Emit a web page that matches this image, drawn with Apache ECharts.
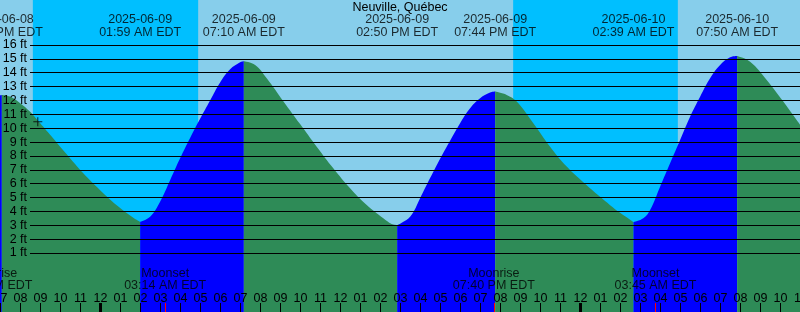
<!DOCTYPE html>
<html><head><meta charset="utf-8">
<script src="https://cdn.jsdelivr.net/npm/echarts@6/dist/echarts.min.js"></script>
<style>html,body{margin:0;padding:0;background:#87CEEB}#c{width:800px;height:312px}</style>
</head><body><div id="c"></div>
<script>
// ---- data (hours are relative to 2025-06-09 00:00 EDT) ----
const chartTitle = 'Neuville, Québec';
const extremeHours  = [-4.933, 1.983, 7.167, 14.833, 19.733, 26.65, 31.833];
const extremeLevels = [12.40, 3.26, 14.83, 3.02, 12.64, 3.22, 15.21];
const extremeTypes  = ['High', 'Low', 'High', 'Low', 'High', 'Low', 'High'];
const extremeDates  = ['2025-06-08', '2025-06-09', '2025-06-09', '2025-06-09', '2025-06-09', '2025-06-10', '2025-06-10'];
const extremeTimes  = ['07:04 PM EDT', '01:59 AM EDT', '07:10 AM EDT', '02:50 PM EDT', '07:44 PM EDT', '02:39 AM EDT', '07:50 AM EDT'];
const sampleHours = [-5.03, -4.53, -4.03, -3.53, -3.19, -2.53, -1.69, -0.86, -0.03, 0.81, 1.64,
  2.48, 2.98, 3.48, 3.98, 4.48, 4.98, 5.48, 5.98, 6.48, 6.98,
  7.73, 8.31, 9.14, 9.98, 10.81, 11.64, 12.48, 13.31, 14.14, 14.56,
  15.48, 15.98, 16.48, 16.98, 17.48, 17.98, 18.48, 18.98, 19.48,
  20.31, 20.81, 21.64, 22.48, 23.31, 24.14, 24.98, 25.48, 25.98, 26.48,
  27.14, 27.48, 27.98, 28.48, 28.98, 29.48, 29.98, 30.48, 30.98, 31.48,
  32.48, 33.31, 34.14, 35.0];
const sampleLevels = [12.37, 12.28, 11.82, 11.20, 10.65, 9.55, 8.12, 6.75, 5.55, 4.45, 3.55,
  3.62, 4.70, 6.25, 7.83, 9.30, 10.68, 12.00, 13.30, 14.25, 14.76,
  14.56, 13.60, 11.95, 10.30, 8.67, 7.11, 5.67, 4.46, 3.50, 3.09,
  3.62, 4.95, 6.40, 7.80, 9.10, 10.36, 11.44, 12.16, 12.57,
  12.40, 11.92, 10.36, 8.67, 7.23, 6.10, 5.05, 4.45, 3.90, 3.40,
  3.50, 4.10, 5.78, 7.47, 9.15, 10.83, 12.27, 13.60, 14.56, 15.11,
  14.80, 13.48, 11.92, 10.20];
const moonHours  = [-5.45, 3.233, 19.667, 27.75];
const moonEvents = ['Moonrise', 'Moonset', 'Moonrise', 'Moonset'];
const moonTimes  = ['06:33 PM EDT', '03:14 AM EDT', '07:40 PM EDT', '03:45 AM EDT'];
const nightStartHours = [-3.383, 20.633];
const nightEndHours   = [4.883, 28.867];
const midnightHours = [0, 24];
const levelTicks = [1, 16];
const nowPoint = [-3.135, 10.47];
const hourRange = [-6, 35];

// ---- layout ----
const FONT = 'Liberation Sans';
const FS = 12.5;
const Y16 = 45, Y1 = 253;
const PXFT = (Y1 - Y16) / (levelTicks[1] - levelTicks[0]);
const H = 312, W = 800, PXH = 20;
const X0 = 100.5; // pixel of hour 0
const yMinA = -4, yMaxA = 20;
const yZero = Y16 + levelTicks[1] * PXFT;
const gridX = { left: X0 + hourRange[0] * PXH, right: W - (X0 + hourRange[1] * PXH) };

// build curve
const pts = sampleHours.map((h, i) => [h, sampleLevels[i], false]);
extremeHours.forEach((h, i) => pts.push([h, extremeLevels[i], true]));
pts.sort((a, b) => a[0] - b[0]);
const segs = [];
let cur = [];
let extIdx = 0;
pts.forEach(p => {
  cur.push([p[0], p[1]]);
  if (p[2]) {
    const rising = extremeTypes[extIdx] === 'High';
    segs.push({ data: cur, color: rising ? '#0000FF' : '#2E8B57' });
    cur = [[p[0], p[1]]];
    extIdx++;
  }
});
if (cur.length > 1) segs.push({ data: cur, color: extremeTypes[extIdx - 1] === 'High' ? '#2E8B57' : '#0000FF' });

const grids = [
  { left: gridX.left, right: gridX.right, top: Y16 - (yMaxA - levelTicks[1]) * PXFT, bottom: H - (yZero - yMinA * PXFT) },
  { left: 30, right: 0, top: Y16, bottom: H - Y1 },
  { left: gridX.left, right: gridX.right, top: 0, bottom: 0 },
  { left: gridX.left, right: gridX.right, top: 303, bottom: 0 },
  { left: gridX.left, right: gridX.right, top: 12.5, height: 27 },
  { left: gridX.left, right: gridX.right, top: 266, height: 27 }
].map(g => Object.assign(g, { outerBoundsMode: 'none', containLabel: false }));
const xAxes = grids.map((g, i) => ({
  gridIndex: i, type: 'value', min: i === 1 ? 0 : hourRange[0], max: i === 1 ? 1 : hourRange[1], show: false
}));
xAxes[2] = {
  gridIndex: 2, type: 'value', min: hourRange[0], max: hourRange[1], interval: 1, z: 10,
  axisLine: { show: false }, splitLine: { show: false },
  axisTick: { show: true, inside: true, length: 9, lineStyle: { color: '#000', width: 1 } },
  axisLabel: {
    inside: true, margin: 7, color: '#000', fontFamily: FONT, fontSize: FS,
    showMinLabel: true, showMaxLabel: true, hideOverlap: false,
    formatter: v => { let hr = ((v % 12) + 12) % 12; if (hr === 0) hr = 12; return String(hr).padStart(2, '0'); }
  }
};
const yAxes = grids.map((g, i) => ({ gridIndex: i, type: 'value', min: 0, max: 1, show: false }));
yAxes[0] = { gridIndex: 0, type: 'value', min: yMinA, max: yMaxA, show: false };
yAxes[1] = {
  gridIndex: 1, type: 'value', min: levelTicks[0], max: levelTicks[1], interval: 1, z: 10,
  axisLine: { show: false }, axisTick: { show: false },
  splitLine: { show: true, lineStyle: { color: '#000', width: 1 } },
  axisLabel: { margin: 3, color: '#000', fontFamily: FONT, fontSize: FS, formatter: v => v + ' ft' }
};

const series = [];
series.push({
  type: 'line', xAxisIndex: 0, yAxisIndex: 0, data: [[hourRange[0], yMinA]], symbol: 'none',
  lineStyle: { width: 0 }, silent: true, z: 1,
  markArea: { silent: true, itemStyle: { color: '#00BFFF' },
    data: nightStartHours.map((s, i) => [{ xAxis: s }, { xAxis: nightEndHours[i] }]) }
});
segs.forEach(s => series.push({
  type: 'line', xAxisIndex: 0, yAxisIndex: 0, data: s.data, smooth: 0.4,
  symbol: 'none', lineStyle: { width: 0 }, silent: true, z: 3,
  areaStyle: { color: s.color, opacity: 1, origin: 'start' }
}));
series.push({
  type: 'scatter', xAxisIndex: 0, yAxisIndex: 0, data: [nowPoint], z: 6, silent: true,
  symbol: 'path://M0,4h9v1h-9zM4,0h1v9h-1z', symbolSize: 9, itemStyle: { color: '#000' }
});
series.push({
  type: 'line', xAxisIndex: 3, yAxisIndex: 3, data: [[hourRange[0], 0]], symbol: 'none',
  lineStyle: { width: 0 }, silent: true,
  markLine: { silent: true, symbol: 'none', label: { show: false },
    data: midnightHours.map(h => ({ xAxis: h, lineStyle: { color: '#000', width: 3, type: 'solid' } }))
      .concat(moonHours.map(h => ({ xAxis: h, lineStyle: { color: '#FF0000', width: 1, type: 'solid' } }))) }
});
const textLabel = (fmt) => ({
  show: true, position: 'inside', color: '#000', fontFamily: FONT, fontSize: FS, lineHeight: 12.5, align: 'center', formatter: fmt
});
series.push({
  type: 'scatter', xAxisIndex: 4, yAxisIndex: 4, clip: false, silent: true, z: 8,
  data: extremeHours.map((h, i) => [h, 0.5, i]), symbolSize: 1, itemStyle: { color: 'transparent' },
  label: textLabel(p => extremeDates[p.value[2]] + '\n' + extremeTimes[p.value[2]])
});
series.push({
  type: 'scatter', xAxisIndex: 5, yAxisIndex: 5, clip: false, silent: true, z: 8,
  data: moonHours.map((h, i) => [h, 0.5, i]), symbolSize: 1, itemStyle: { color: 'transparent' },
  label: textLabel(p => moonEvents[p.value[2]] + '\n' + moonTimes[p.value[2]])
});

const chart = echarts.init(document.getElementById('c'), null, { renderer: 'canvas' });
chart.setOption({
  animation: false,
  backgroundColor: '#87CEEB',
  title: { text: chartTitle, left: 'center', top: 0.5, padding: 0,
    textStyle: { color: '#000', fontFamily: FONT, fontSize: FS, fontWeight: 'normal', lineHeight: 14 } },
  grid: grids, xAxis: xAxes, yAxis: yAxes, series: series
});
</script></body></html>
